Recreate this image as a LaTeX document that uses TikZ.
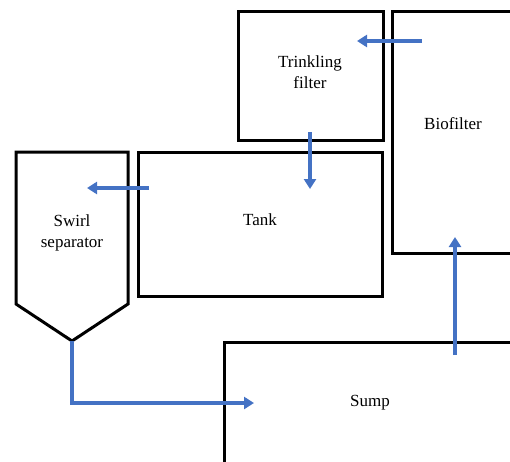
\documentclass[tikz,border=0pt]{standalone}
\usepackage{fontspec}
\setmainfont{Liberation Serif}
\usetikzlibrary{arrows.meta}
\definecolor{flowblue}{HTML}{4472C4}
\tikzset{
  x=1pt, y=-1pt,
  tankbox/.style={draw=black, line width=3pt, fill=none},
  lbl/.style={font=\fontsize{17}{21}\selectfont, align=center, inner sep=0pt},
  flow/.style={draw=flowblue, line width=3.3pt, -{Triangle[length=10pt,width=12pt]}},
}
\begin{document}
\begin{tikzpicture}
\useasboundingbox (0,0) rectangle (510,461);
\clip (0,0) rectangle (510,461);
% boxes
\draw[tankbox] (238,11) rectangle (383,140);
\draw[tankbox] (392,11) rectangle (530,253);
\draw[tankbox] (138,152) rectangle (382,296);
\draw[tankbox, line join=miter] (16,152) -- (128,152) -- (128,304) -- (72,341) -- (16,304) -- cycle;
\draw[tankbox] (224,342) rectangle (530,480);
% labels
\node[lbl] (tf) at (310,72) {Trinkling\\filter};
\node[lbl] (bf) at (453,124) {Biofilter};
\node[lbl] (tank) at (260,220) {Tank};
\node[lbl] (sw) at (72,233) {Swirl\\separator};
\node[lbl] (sump) at (370,403) {Sump};
% connector ends
\coordinate (a1s) at (422,41);
\coordinate (a1e) at (357,41);
\coordinate (a2s) at (310,132);
\coordinate (a2e) at (310,189);
\coordinate (a3s) at (149,188);
\coordinate (a3e) at (87,188);
\coordinate (a4s) at (72,341);
\coordinate (a4e) at (254,403);
\coordinate (a5s) at (455,355);
\coordinate (a5e) at (455,237);
% arrows
\draw[flow] (a1s) -- (a1e);
\draw[flow] (a2s) -- (a2e);
\draw[flow] (a3s) -- (a3e);
\draw[flow] (a4s) |- (a4e);
\draw[flow] (a5s) -- (a5e);
\end{tikzpicture}
\end{document}
